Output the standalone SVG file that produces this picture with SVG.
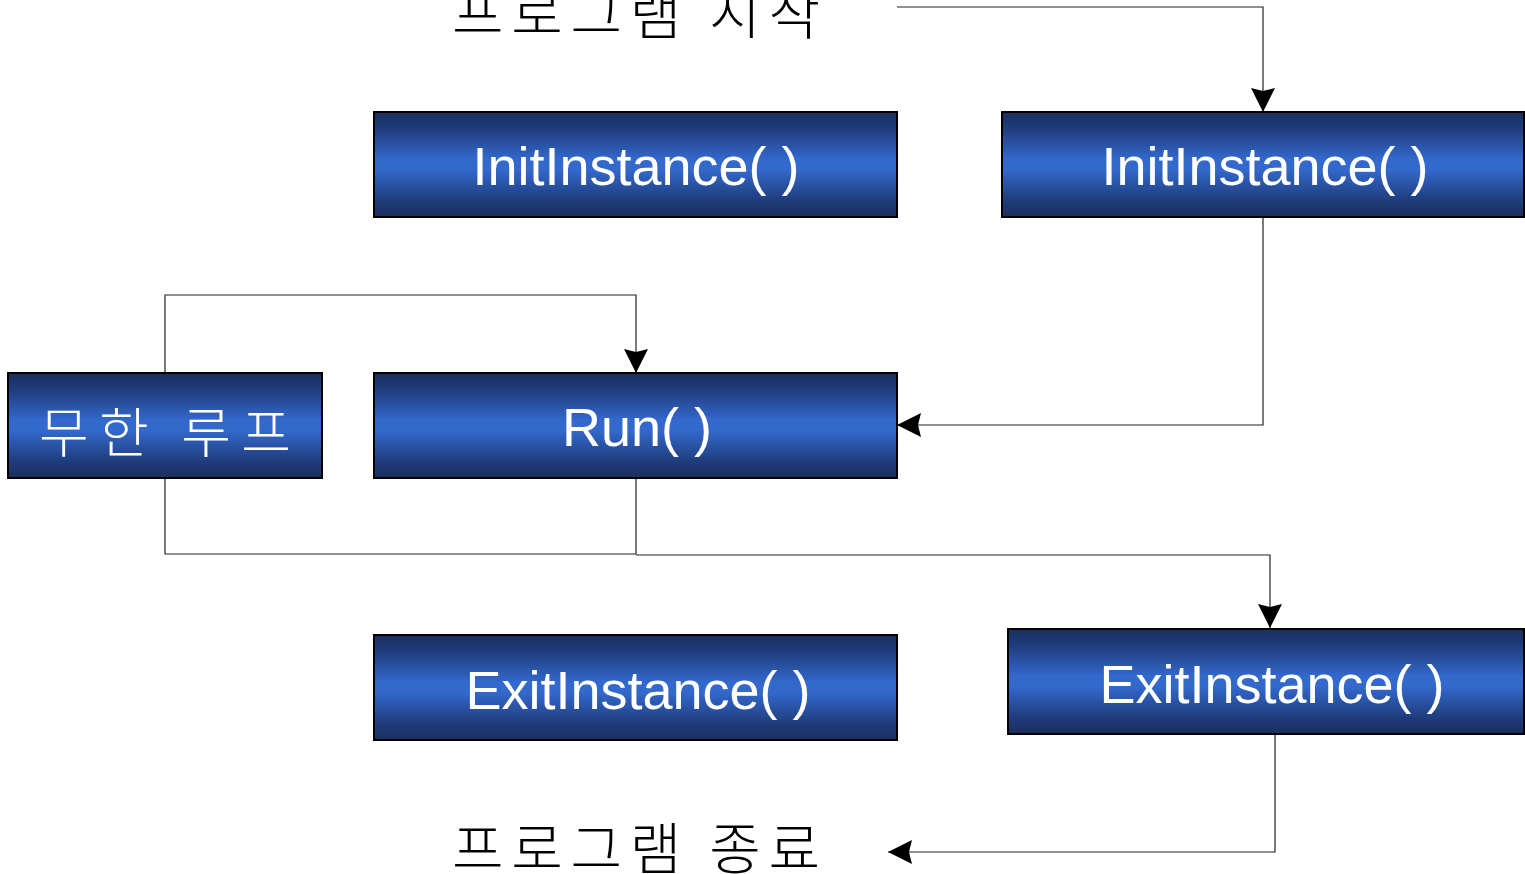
<svg xmlns="http://www.w3.org/2000/svg" width="1525" height="874" viewBox="0 0 1525 874">
<style>
.box{fill:url(#bg);stroke:#000;stroke-width:2}
.lbl{font-family:"Liberation Sans",Arial,sans-serif;font-size:54px;fill:#fff;text-anchor:middle}
.kw{font-family:"Noto Sans CJK KR",sans-serif;font-size:54px;font-weight:300;fill:#fff}
.kb{font-family:"Noto Sans CJK KR",sans-serif;font-size:56px;font-weight:300;fill:#000}
.con{fill:none;stroke:#222;stroke-width:1.2}
</style>
<defs>
<linearGradient id="bg" x1="0" y1="0" x2="0" y2="1">
<stop offset="0" stop-color="#1b2f5e"/>
<stop offset="0.15" stop-color="#1f3b7a"/>
<stop offset="0.45" stop-color="#3368cc"/>
<stop offset="0.55" stop-color="#3368cc"/>
<stop offset="0.85" stop-color="#1f3b7a"/>
<stop offset="1" stop-color="#1b2f5e"/>
</linearGradient>
<marker id="arr" viewBox="0 0 24 24" refX="24" refY="12" markerWidth="24" markerHeight="24" markerUnits="userSpaceOnUse" orient="auto">
<path d="M0,0 L24,12 L0,24 L3,12 Z" fill="#000"/>
</marker>
</defs>
<rect width="1525" height="874" fill="#fff"/>
<g id="connectors">
<path class="con" d="M897,7 H1263 V112" marker-end="url(#arr)"/>
<path class="con" d="M1263,218 V425 H897" marker-end="url(#arr)"/>
<path class="con" d="M165,373 V295 H636 V373" marker-end="url(#arr)"/>
<path class="con" d="M636,478 V554 H165 V478"/>
<path class="con" d="M636,555 H1270 V628" marker-end="url(#arr)"/>
<path class="con" d="M1275,735 V852 H888" marker-end="url(#arr)"/>
</g>
<g id="start"><text class="kb" x="452" y="34" textLength="368" lengthAdjust="spacing">프로그램 시작</text></g>
<g id="init1"><rect class="box" x="374" y="112" width="523" height="105"/><text class="lbl" x="636" y="185">InitInstance( )</text></g>
<g id="init2"><rect class="box" x="1002" y="112" width="522" height="105"/><text class="lbl" x="1265" y="185">InitInstance( )</text></g>
<g id="loop"><rect class="box" x="8" y="373" width="314" height="105"/><text class="kw" x="39" y="453" textLength="252" lengthAdjust="spacing">무한 루프</text></g>
<g id="run"><rect class="box" x="374" y="373" width="523" height="105"/><text class="lbl" x="637" y="446">Run( )</text></g>
<g id="exit1"><rect class="box" x="374" y="635" width="523" height="105"/><text class="lbl" x="638" y="709">ExitInstance( )</text></g>
<g id="exit2"><rect class="box" x="1008" y="629" width="516" height="105"/><text class="lbl" x="1272" y="703">ExitInstance( )</text></g>
<g id="end"><text class="kb" x="452" y="869" textLength="368" lengthAdjust="spacing">프로그램 종료</text></g>
</svg>
